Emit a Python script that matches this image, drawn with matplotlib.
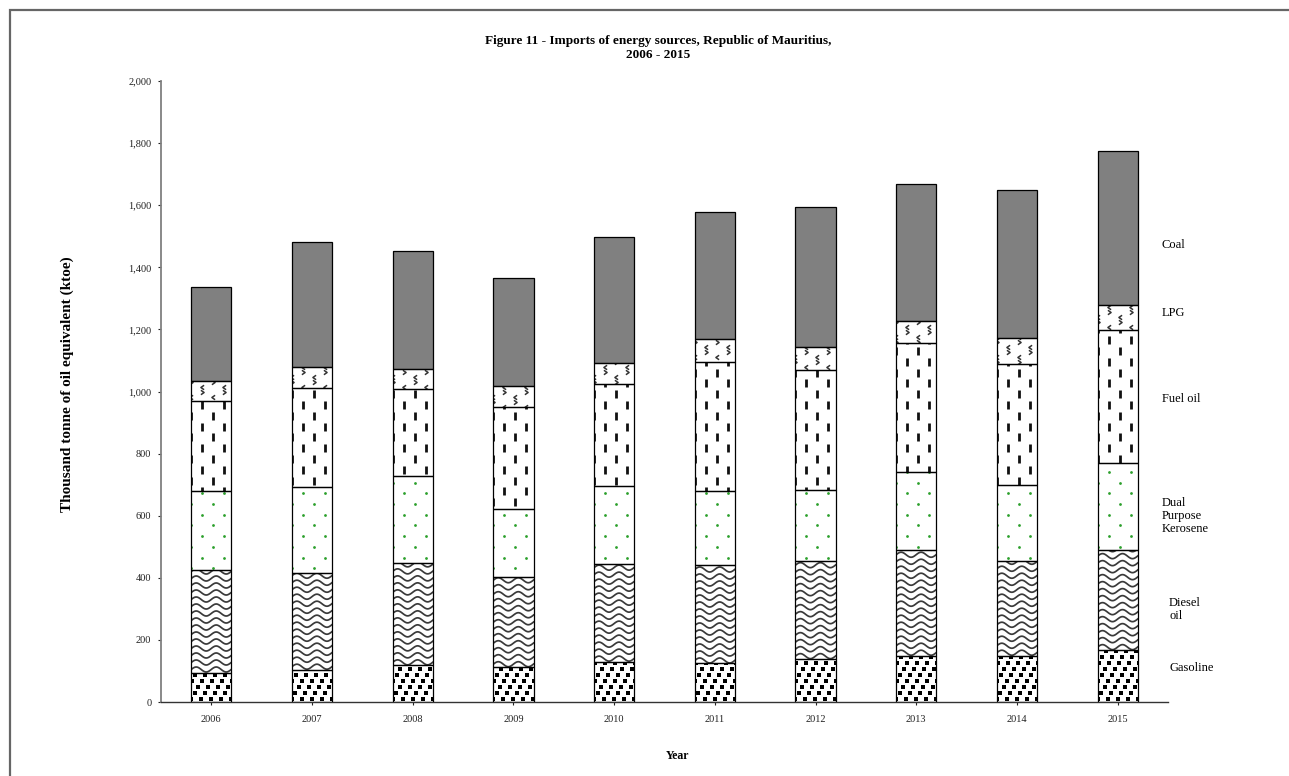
import numpy as np
import matplotlib
matplotlib.use('Agg')
import matplotlib.pyplot as plt
from matplotlib.patches import Rectangle
from matplotlib.ticker import FuncFormatter, MultipleLocator

plt.rcParams['font.family'] = ['Liberation Serif', 'DejaVu Serif']

# data (ktoe)
years = ['2006', '2007', '2008', '2009', '2010', '2011', '2012', '2013', '2014', '2015']
gasoline = [95, 104, 118, 112, 130, 124, 138, 149, 149, 167]
diesel = [331, 310, 330, 291, 314, 316, 317, 340, 306, 322]
dpk = [253, 277, 280, 218, 251, 239, 229, 253, 244, 282]
fuel_oil = [292, 321, 280, 330, 329, 417, 386, 413, 390, 427]
lpg = [64, 68, 66, 67, 67, 73, 72, 73, 82, 79]
coal = [303, 401, 377, 348, 408, 409, 452, 440, 479, 498]

W, H = 1289, 776
fig = plt.figure(figsize=(W/100, H/100), dpi=100)
ax = fig.add_axes([161/W, (H-702)/H, (1168-161)/W, (702-81)/H])

x = np.arange(len(years))
bw = 0.4
ax.set_xlim(-0.5, 9.5)
ax.set_ylim(0, 2000)

# data units per pixel
ux = 10/1007
uy = 2000/621

series = [gasoline, diesel, dpk, fuel_oil, lpg, coal]
faces = ['white', 'white', 'white', 'white', 'white', '#808080']
bottom = np.zeros(len(years))
containers = []
for vals, fc in zip(series, faces):
    bars = ax.bar(x, vals, bw, bottom=bottom, color=fc, edgecolor='none', zorder=1)
    containers.append(bars)
    bottom = bottom + np.array(vals)


def grid(rect, dx, dy, shift):
    x0, y0 = rect.get_x(), rect.get_y()
    w, h = rect.get_width(), rect.get_height()
    xs, ys = [], []
    k0 = int(np.floor(y0/(dy*uy)))
    k1 = int(np.ceil((y0+h)/(dy*uy))) + 1
    for k in range(k0, k1):
        yy = (k + 0.5)*dy*uy
        off = ((k*shift) % dx)*ux
        xx = np.arange(x0 - dx*ux + off, x0 + w + dx*ux, dx*ux)
        xs.extend(xx)
        ys.extend([yy]*len(xx))
    return np.array(xs), np.array(ys)


def texture(bars, dx, dy, shift, **kw):
    for r in bars:
        xs, ys = grid(r, dx, dy, shift)
        ln, = ax.plot(xs, ys, linestyle='none', zorder=2, **kw)
        ln.set_clip_path(r)


# gasoline: black squares
texture(containers[0], 10, 6, 3.5, marker='s', ms=2.9, color='black', mew=0)
# diesel oil: waves
for r in containers[1]:
    x0, y0 = r.get_x(), r.get_y()
    w, h = r.get_width(), r.get_height()
    xx = np.linspace(x0, x0 + w, 80)
    for yb in np.arange(y0 + 3*uy, y0 + h + 7*uy, 7*uy):
        ln, = ax.plot(xx, yb + 2.5*uy*np.sin(2*np.pi*(xx - x0)/(20*ux)),
                      color='#3a3a3a', lw=1.25, zorder=2)
        ln.set_clip_path(r)
# dual purpose kerosene: green dots
texture(containers[2], 22, 10.7, 11, marker='o', ms=2.0, color='#2ca02c', mew=0)
# fuel oil: vertical dashes
texture(containers[3], 22, 10.8, 11, marker='|', ms=5.5, color='#111111', mew=2.0)
# lpg: small chevrons
chev_l = [(0.5, 0.7), (-0.5, 0), (0.5, -0.7)]
chev_r = [(-0.5, 0.7), (0.5, 0), (-0.5, -0.7)]
texture(containers[4], 22, 10, 11, marker=chev_l, ms=3.2, color='#333333',
        mew=1.1, fillstyle='none')
for r in containers[4]:
    xs, ys = grid(r, 22, 10, 11)
    ln, = ax.plot(xs + 11*ux, ys + 5*uy, linestyle='none', marker=chev_r, ms=3.2,
                  color='#333333', mew=1.1, fillstyle='none', zorder=2)
    ln.set_clip_path(r)

# outlines on top
bottom = np.zeros(len(years))
for vals in series:
    ax.bar(x, vals, bw, bottom=bottom, facecolor='none', edgecolor='black',
           linewidth=0.9, zorder=3)
    bottom = bottom + np.array(vals)

ax.set_xticks(x)
ax.set_xticklabels(years)
ax.yaxis.set_major_locator(MultipleLocator(200))
ax.yaxis.set_major_formatter(FuncFormatter(lambda v, p: f'{int(v):,}'))
ax.tick_params(axis='y', direction='out', length=2.4, width=0.8, pad=4.5,
               labelsize=7.5, colors='#222222')
ax.tick_params(axis='x', direction='out', length=2.4, width=0.8, pad=7,
               labelsize=7.5, colors='#222222')
for s in ['top', 'right']:
    ax.spines[s].set_visible(False)
ax.spines['left'].set_color('#808080')
ax.spines['left'].set_linewidth(1.3)
ax.spines['bottom'].set_color('#333333')
ax.spines['bottom'].set_linewidth(1.0)

# series names at the right
fs = 9
ax.text(9.44, 1472, 'Coal', fontsize=fs, va='center', ha='left')
ax.text(9.44, 1254, 'LPG', fontsize=fs, va='center', ha='left')
ax.text(9.44, 977, 'Fuel oil', fontsize=fs, va='center', ha='left')
ax.text(9.44, 600, 'Dual\nPurpose\nKerosene', fontsize=fs, va='center', ha='left',
        linespacing=1.1)
ax.text(9.51, 297, 'Diesel\noil', fontsize=fs, va='center', ha='left', linespacing=1.1)
ax.text(9.51, 110, 'Gasoline', fontsize=fs, va='center', ha='left')

fig.text(658/W, 1 - 48/H, 'Figure 11 - Imports of energy sources, Republic of Mauritius,\n2006 - 2015',
         ha='center', va='center', fontsize=9.5, fontweight='bold', linespacing=1.3)
fig.text(67/W, 1 - 384/H, 'Thousand tonne of oil equivalent (ktoe)', rotation=90,
         ha='center', va='center', fontsize=11, fontweight='bold')
fig.text(678/W, 1 - 756/H, 'Year', ha='center', va='center', fontsize=8.5, fontweight='bold')

# outer frame
fig.patches.append(Rectangle((10/W, -0.1), 1.2, 1.1 - 10/H, transform=fig.transFigure,
                             fill=False, edgecolor='#666666', linewidth=1.6))

fig.savefig('out.png', dpi=100)
